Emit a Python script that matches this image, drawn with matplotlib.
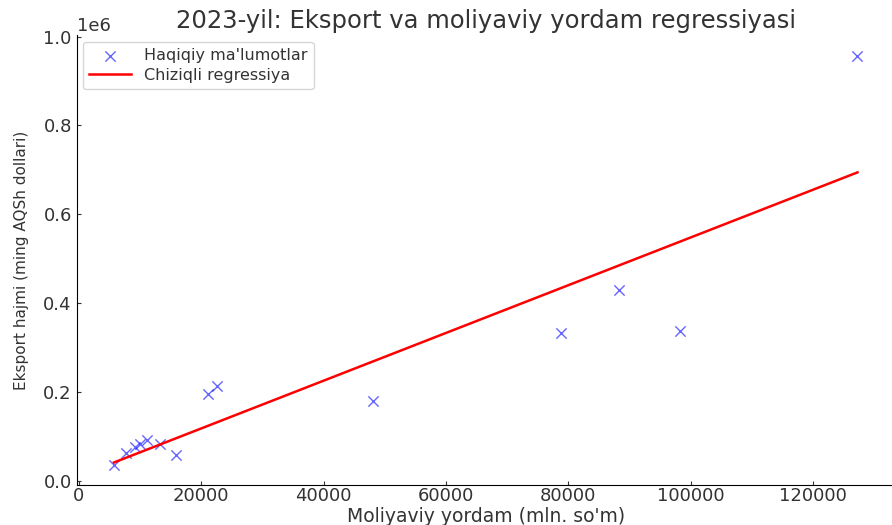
import numpy as np
import matplotlib
matplotlib.use("Agg")
import matplotlib.pyplot as plt

# Moliyaviy yordam (mln. so'm) va eksport hajmi (ming AQSh dollari)
yordam = [5730, 7640, 9170, 9980, 11080, 13260, 15930, 21170, 22530,
          48100, 78830, 88270, 98200, 127300]
eksport = [36000, 62400, 76700, 83500, 92500, 82800, 58700, 194000, 213000,
           180000, 332500, 428900, 336300, 957000]

x = np.array(yordam, dtype=float)
y = np.array(eksport, dtype=float)
k, b = np.polyfit(x, y, 1)
xs = np.sort(x)

txt = '#333333'
plt.rcParams['text.color'] = txt
plt.rcParams['axes.labelcolor'] = txt
plt.rcParams['xtick.color'] = txt
plt.rcParams['ytick.color'] = txt

fig = plt.figure(figsize=(8.92, 5.25), dpi=100)
ax = fig.add_axes([0.086, 0.076, 0.917, 0.857])

ax.scatter(x, y, marker='x', color='blue', alpha=0.6, s=55, linewidths=1,
           label="Haqiqiy ma'lumotlar")
ax.plot(xs, k * xs + b, color='red', linewidth=1.8, label='Chiziqli regressiya')

ax.set_title('2023-yil: Eksport va moliyaviy yordam regressiyasi', fontsize=17.5, pad=5)
ax.set_xlabel("Moliyaviy yordam (mln. so'm)", fontsize=13.5, labelpad=1)
ax.set_ylabel('Eksport hajmi (ming AQSh dollari)', fontsize=11, labelpad=10)
ax.tick_params(labelsize=13, direction='in', length=3)
ax.tick_params(axis='x', pad=1.5)
ax.yaxis.get_offset_text().set_fontsize(13)
ax.spines['top'].set_visible(False)
ax.spines['right'].set_visible(False)
ax.legend(loc='upper left', fontsize=11.5, handlelength=2.6, labelspacing=0.3,
          borderaxespad=0.4)

fig.savefig('out.png', dpi=100)
